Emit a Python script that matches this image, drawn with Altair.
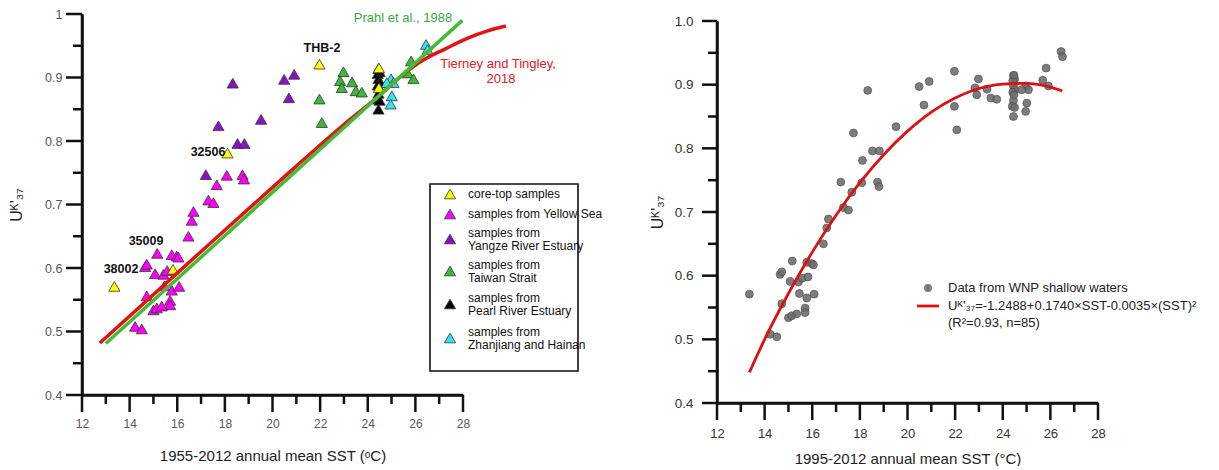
import altair as alt
import pandas as pd

# ---------------- data ----------------
core_x = [13.36, 15.82, 18.11, 21.97, 24.47, 24.47]
core_y = [0.571, 0.598, 0.781, 0.921, 0.915, 0.884]

yellowsea_x = [14.65, 14.72, 14.72, 14.23, 14.51, 15.16, 15.07, 15.42, 15.46, 15.58,
               15.77, 15.98, 16.05, 15.77, 16.08, 15.70, 15.70, 15.00, 15.14, 15.35,
               16.47, 16.61, 16.68, 17.31, 17.52, 17.66, 18.08, 18.74, 18.80]
yellowsea_y = [0.602, 0.606, 0.556, 0.508, 0.504, 0.623, 0.591, 0.590, 0.572, 0.596,
               0.621, 0.619, 0.617, 0.565, 0.571, 0.549, 0.542, 0.534, 0.537, 0.540,
               0.650, 0.675, 0.689, 0.707, 0.703, 0.731, 0.746, 0.747, 0.740]

yangze_x = [17.20, 17.73, 18.33, 18.53, 18.82, 19.52, 20.49, 20.91, 20.69]
yangze_y = [0.747, 0.824, 0.891, 0.796, 0.796, 0.834, 0.897, 0.905, 0.868]

taiwan_x = [21.97, 22.07, 22.98, 22.84, 22.91, 23.34, 23.50, 23.75, 25.82, 25.68, 25.92]
taiwan_y = [0.866, 0.829, 0.909, 0.895, 0.884, 0.893, 0.879, 0.877, 0.926, 0.907, 0.898]

pearl_x = [24.45, 24.50, 24.42, 24.45, 24.50, 24.42, 24.45, 24.40, 24.50, 24.45]
pearl_y = [0.914, 0.909, 0.906, 0.898, 0.892, 0.888, 0.875, 0.866, 0.864, 0.850]

hainan_x = [26.45, 26.51, 24.98, 25.08, 25.01, 24.96, 24.80]
hainan_y = [0.952, 0.944, 0.898, 0.892, 0.871, 0.858, 0.892]

# calibration lines (left panel)
tierney_x = [12.75, 16.0, 20.0, 23.0, 24.5, 25.3, 25.9, 26.5, 27.2, 28.2, 29.0, 29.8]
tierney_y = [0.482, 0.592, 0.727, 0.826, 0.872, 0.899, 0.917, 0.931, 0.944, 0.962, 0.973, 0.981]
prahl_x = [13.0, 27.97]
prahl_y = [0.481, 0.990]

# quadratic fit (right panel)
fit_x = [13.36, 14, 15, 16, 17, 18, 19, 20, 21, 22, 23, 24, 25, 26, 26.5]
fit_y = [0.448, 0.500, 0.572, 0.637, 0.695, 0.746, 0.790, 0.827, 0.857, 0.879,
         0.894, 0.901, 0.902, 0.896, 0.890]

# axis ticks
major_x = [12, 14, 16, 18, 20, 22, 24, 26, 28]
minor_x = [13, 15, 17, 19, 21, 23, 25, 27]
major_y = [0.4, 0.5, 0.6, 0.7, 0.8, 0.9, 1.0]
minor_y = [0.45, 0.55, 0.65, 0.75, 0.85, 0.95]

groups = ["core-top samples", "samples from Yellow Sea", "samples from Yangze River Estuary",
          "samples from Taiwan Strait", "samples from Pearl River Estuary",
          "samples from Zhanjiang and Hainan"]
legend_lines = [["core-top samples"], ["samples from Yellow Sea"],
                ["samples from", "Yangze River Estuary"], ["samples from", "Taiwan Strait"],
                ["samples from", "Pearl River Estuary"], ["samples from", "Zhanjiang and Hainan"]]
colors = ["#ffff00", "#ff00ff", "#8a12c6", "#3cb83c", "#000000", "#30e4f0"]
series = [(core_x, core_y), (yellowsea_x, yellowsea_y), (yangze_x, yangze_y),
          (taiwan_x, taiwan_y), (pearl_x, pearl_y), (hainan_x, hainan_y)]

# ---------------- helpers ----------------
FONT = "Liberation Sans"
INK = "#111111"
W = 381
HL = 381          # left plot height
HR = 389          # right group height (plot drawn from RT to HR)
RT = 7            # right plot top offset

xs = alt.Scale(domain=[12, 28], nice=False, zero=False)
ys_l = alt.Scale(domain=[0.4, 1.0], nice=False, zero=False)
ys_r = alt.Scale(domain=[0.4, 1.0], nice=False, zero=False, range=[HR, RT])


def x_axis(title, label_size, label_color, label_pad, title_pad):
    return alt.Axis(
        title=title, values=major_x, grid=False, ticks=False, domain=True,
        domainColor=INK, domainWidth=2.5, labelFlush=False,
        labelFont=FONT, labelFontSize=label_size, labelColor=label_color,
        labelPadding=label_pad, titleFont=FONT, titleFontSize=15, titleFontWeight="normal",
        titleColor="#222222", titlePadding=title_pad)


def y_axis(label_expr, label_size, label_color, label_pad, title_pad):
    return alt.Axis(
        title="Uᴷ'₃₇", values=major_y, grid=False, ticks=False, domain=True,
        labelExpr=label_expr, domainColor=INK, domainWidth=2.5, labelFlush=False,
        labelFont=FONT, labelFontSize=label_size, labelColor=label_color,
        labelPadding=label_pad, titleFont=FONT, titleFontSize=16, titleFontWeight="normal",
        titleColor="#222222", titlePadding=title_pad)


one = pd.DataFrame({"a": [0]})
Mx_df = pd.DataFrame({"v": major_x})
mx_df = pd.DataFrame({"v": minor_x})
My_df = pd.DataFrame({"v": major_y})
my_df = pd.DataFrame({"v": minor_y})


def tick_marks(ysc, top, bottom, ylen):
    out = []
    for d, ln in ((Mx_df, 17), (mx_df, 9)):
        out.append(alt.Chart(d).mark_rule(color=INK, strokeWidth=2.5).encode(
            x=alt.X("v:Q", scale=xs), y=alt.value(bottom), y2=alt.value(bottom + ln)))
    for d, ln in ((My_df, ylen), (my_df, 9)):
        out.append(alt.Chart(d).mark_rule(color=INK, strokeWidth=2.5).encode(
            y=alt.Y("v:Q", scale=ysc), x=alt.value(0), x2=alt.value(-ln)))
    # axis lines
    out.append(alt.Chart(one).mark_rule(color=INK, strokeWidth=2.5).encode(
        x=alt.value(0), y=alt.value(top), y2=alt.value(bottom)))
    out.append(alt.Chart(one).mark_rule(color=INK, strokeWidth=2.5).encode(
        x=alt.value(0), x2=alt.value(W), y=alt.value(bottom)))
    return out


def label(text, x, y, color="#111111", bold=True, size=12.5, align="center"):
    return alt.Chart(one).mark_text(text=text, color=color, font=FONT, fontSize=size,
                                    fontWeight="bold" if bold else "normal",
                                    align=align, baseline="middle").encode(
        x=alt.value(x), y=alt.value(y))


# ---------------- left panel ----------------
rows = []
draw_order = [1, 2, 3, 4, 5, 0]
for gi in draw_order:
    sx, sy = series[gi]
    for a, b in zip(sx, sy):
        rows.append({"sst": a, "uk": b, "group": groups[gi]})
pts = pd.DataFrame(rows)

left_x = x_axis("1955-2012 annual mean SST (ᵒC)", 12, "#555555", 23, 19)
left_y = y_axis("datum.value === 1 ? '1' : format(datum.value, '.1f')",
                12.5, "#555555", 20, 20)

left_pts = alt.Chart(pts).mark_point(shape="triangle-up", filled=True, size=125,
                                     stroke="#333333", strokeWidth=0.8, opacity=1).encode(
    x=alt.X("sst:Q", scale=xs, axis=left_x),
    y=alt.Y("uk:Q", scale=ys_l, axis=left_y),
    fill=alt.Fill("group:N", scale=alt.Scale(domain=groups, range=colors), legend=None),
)

red_df = pd.DataFrame({"sst": tierney_x, "uk": tierney_y})
green_df = pd.DataFrame({"sst": prahl_x, "uk": prahl_y})
red_line = alt.Chart(red_df).mark_line(color="#e01414", strokeWidth=3.5,
                                       interpolate="monotone", clip=False).encode(
    x=alt.X("sst:Q", scale=xs), y=alt.Y("uk:Q", scale=ys_l))
green_line = alt.Chart(green_df).mark_line(color="#44bb33", strokeWidth=3.5).encode(
    x=alt.X("sst:Q", scale=xs), y=alt.Y("uk:Q", scale=ys_l))

annots = [
    label("Prahl et al., 1988", 321, 4, color="#3aa64a", bold=False, size=13),
    label("Tierney and Tingley,", 416, 50, color="#e02020", bold=False, size=13),
    label("2018", 419, 65, color="#e02020", bold=False, size=13),
    label("THB-2", 240, 34),
    label("32506", 126, 138),
    label("35009", 64, 227),
    label("38002", 39, 255),
]

legend_box = alt.Chart(one).mark_rect(fill="white", stroke="#111111", strokeWidth=1.6).encode(
    x=alt.value(348), x2=alt.value(496), y=alt.value(170), y2=alt.value(357))
legend_layers = [legend_box]
tri_y = [180, 200, 225, 257, 290, 324]
for i, lines in enumerate(legend_lines):
    legend_layers.append(
        alt.Chart(one).mark_point(shape="triangle-up", filled=True, size=125,
                                  fill=colors[i], stroke="#333333", strokeWidth=0.8,
                                  opacity=1).encode(x=alt.value(368), y=alt.value(tri_y[i])))
    offs = [0] if len(lines) == 1 else [-6.5, 6.5]
    for line, o in zip(lines, offs):
        legend_layers.append(label(line, 386, tri_y[i] + o, color="#111111", bold=False,
                                   size=12, align="left"))

left = alt.layer(left_pts, red_line, green_line, *tick_marks(ys_l, 0, HL, 16), *annots,
                 *legend_layers).properties(width=W, height=HL)

# ---------------- right panel ----------------
all_df = pts[["sst", "uk"]]
right_x = x_axis("1995-2012 annual mean SST (°C)", 13, "#333333", 24, 11)
right_y = y_axis("format(datum.value, '.1f')", 13.5, "#333333", 24, 9)

right_pts = alt.Chart(all_df).mark_circle(size=62, color="#6f6f6f", opacity=0.9,
                                          stroke="#4a4a4a", strokeWidth=0.8).encode(
    x=alt.X("sst:Q", scale=xs, axis=right_x),
    y=alt.Y("uk:Q", scale=ys_r, axis=right_y))
fit_df = pd.DataFrame({"sst": fit_x, "uk": fit_y})
fit_line = alt.Chart(fit_df).mark_line(color="#dd1111", strokeWidth=2.8,
                                       interpolate="monotone").encode(
    x=alt.X("sst:Q", scale=xs), y=alt.Y("uk:Q", scale=ys_r))

r_leg = [
    alt.Chart(one).mark_circle(size=62, color="#6f6f6f", opacity=0.9).encode(
        x=alt.value(211), y=alt.value(267 + RT)),
    label("Data from WNP shallow waters", 231, 267 + RT, color="#222222", bold=False,
          size=13, align="left"),
    alt.Chart(one).mark_rule(color="#dd1111", strokeWidth=2.8).encode(
        x=alt.value(200), x2=alt.value(222), y=alt.value(285 + RT)),
    label("Uᴷ'₃₇=-1.2488+0.1740×SST-0.0035×(SST)²", 231, 285 + RT, color="#222222",
          bold=False, size=13, align="left"),
    label("(R²=0.93, n=85)", 231, 302 + RT, color="#222222", bold=False, size=13, align="left"),
]

right = alt.layer(right_pts, fit_line, *tick_marks(ys_r, RT, HR, 15), *r_leg).properties(
    width=W, height=HR)

chart = alt.hconcat(left, right, spacing=254, bounds="flush").properties(
    padding={"left": 0, "top": 0, "right": 0, "bottom": 0}
).configure_view(stroke=None)

chart.save("out.html", embed_options={"renderer": "svg", "actions": False})
